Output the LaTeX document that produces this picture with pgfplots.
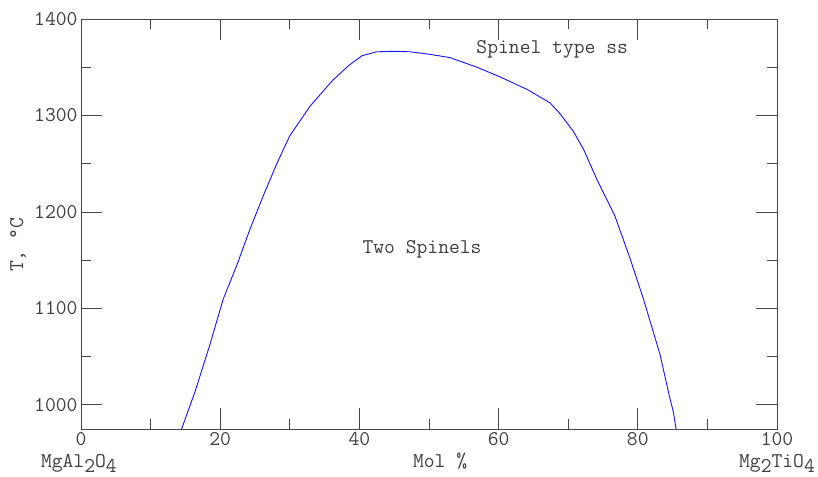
\documentclass[border=0pt]{standalone}
\usepackage{pgfplots}
\pgfplotsset{compat=1.18}
\usepackage{fontspec}
\definecolor{txt}{RGB}{64,64,64}
\definecolor{axln}{RGB}{70,70,70}
\definecolor{curve}{RGB}{20,20,255}
\newcommand{\sub}[1]{\raisebox{-5pt}{#1}}
\newcommand{\lbl}{\ttfamily\fontsize{21}{23}\selectfont}
\begin{document}
\begin{tikzpicture}[x=1pt,y=1pt]
\useasboundingbox (0,0) rectangle (818,476);
\begin{axis}[
  at={(81pt,47pt)}, anchor=south west,
  scale only axis, width=696pt, height=410pt,
  xmin=0, xmax=100, ymin=975, ymax=1400,
  xtick={0,20,...,100}, ytick={1000,1100,...,1400},
  minor x tick num=1, minor y tick num=1,
  tick align=inside,
  major tick length=21pt, minor tick length=10pt,
  axis line style={axln, line width=0.8pt},
  every tick/.style={axln, line width=0.8pt},
  every minor tick/.style={axln, line width=0.8pt},
  ticklabel style={font=\lbl, text=txt},
  /pgf/number format/assume math mode=true,
  /pgf/number format/1000 sep={},
  clip=false,
  xlabel={Mol \%},
  xlabel style={at={(axis description cs:0.516,-0.078)}, anchor=center, font=\lbl, text=txt},
  ylabel={T, \textdegree C},
  ylabel style={at={(axis description cs:-0.0905,0.449)}, anchor=center, rotate=0, font=\lbl, text=txt},
]
\addplot[curve, line width=0.9pt] coordinates {
  (14.45,975) (16.4,1014) (18.5,1062) (20.45,1110) (22.4,1145)
  (24.3,1182.5) (26.2,1217) (28.1,1249.5) (30.0,1279) (32.9,1309.5)
  (36.1,1336) (38.5,1352) (40.4,1362) (42.5,1366) (45,1366.5)
  (47.3,1366) (50,1363.5) (53,1360) (56.9,1350) (60.2,1340)
  (64.1,1327) (67.4,1313) (68.8,1302) (70.7,1284) (72.2,1265)
  (74.1,1234) (76.7,1196) (78.9,1151.5) (80.8,1110) (83.2,1052)
  (84.6,1007) (85.1,993) (85.5,975)
};
\node[text=txt, font=\lbl] at (axis cs:67.7,1369) {Spinel type ss};
\node[text=txt, font=\lbl] at (axis cs:49,1161) {Two Spinels};
\node[text=txt, font=\lbl] at (axis description cs:-0.003,-0.083) {MgAl\sub{2}O\sub{4}};
\node[text=txt, font=\lbl] at (axis description cs:1.0,-0.083) {Mg\sub{2}TiO\sub{4}};
\end{axis}
\end{tikzpicture}
\end{document}
